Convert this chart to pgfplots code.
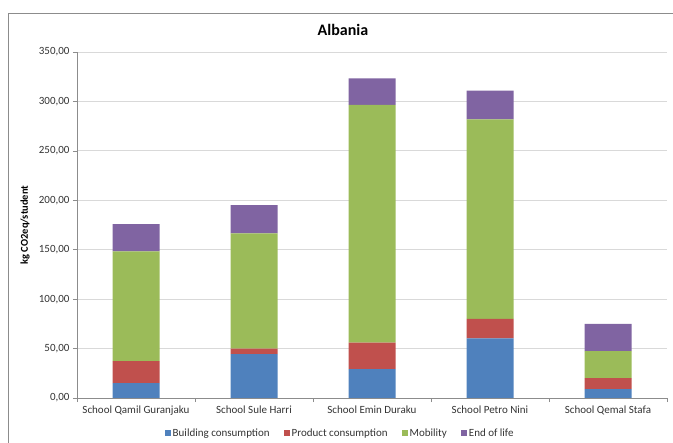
\documentclass[border=0pt]{standalone}
\usepackage{pgfplots}
\pgfplotsset{compat=1.18}
\usepackage{fontspec}
\setmainfont{Carlito}

\definecolor{xlblue}{HTML}{4F81BD}
\definecolor{xlred}{HTML}{C0504D}
\definecolor{xlgreen}{HTML}{9BBB59}
\definecolor{xlpurple}{HTML}{8064A2}
\definecolor{gridgray}{HTML}{D9D9D9}
\definecolor{axisgray}{HTML}{8C8C8C}

\begin{document}
\begin{tikzpicture}
  \path[use as bounding box] (0,0) rectangle (673bp,443bp);
  \draw[axisgray, line width=0.8bp] (8bp,0) -- (8bp,430bp) -- (673bp,430bp);

  \begin{axis}[
      at={(77bp,45bp)}, anchor=south west,
      scale only axis,
      width=590bp, height=346bp,
      ybar stacked,
      bar width=47bp,
      xmin=-0.5, xmax=4.5,
      ymin=0, ymax=350,
      ytick={0,50,...,350},
      xtick={0,1,2,3,4},
      xticklabels={School Qamil Guranjaku, School Sule Harri, School Emin Duraku, School Petro Nini, School Qemal Stafa},
      minor xtick={-0.5,0.5,...,4.5},
      major x tick style={draw=none},
      tick align=outside,
      major tick length=4bp,
      minor tick length=4bp,
      tick style={axisgray, line width=0.6bp},
      axis x line*=bottom,
      axis y line*=left,
      x axis line style={-, axisgray, line width=0.6bp},
      y axis line style={-, axisgray, line width=0.6bp},
      separate axis lines,
      ymajorgrids,
      grid style={gridgray, line width=0.8bp},
      yticklabel style={/pgf/number format/.cd, fixed, fixed zerofill, precision=2, use comma, assume math mode=true},
      ticklabel style={font=\fontsize{11bp}{13bp}\selectfont, text=black!80},
      ylabel={kg CO2eq/student},
      every axis y label/.style={at={(axis description cs:-0.088,0.5)}, rotate=90, anchor=center,
        font=\bfseries\fontsize{10.5bp}{12bp}\selectfont},
      legend columns=4,
      legend style={draw=none, fill=none, at={(axis description cs:0.446,-0.101)}, anchor=center,
        font=\fontsize{11bp}{13bp}\selectfont, text=black!80,
        /tikz/every even column/.append style={column sep=12bp}},
      legend image code/.code={\fill[#1] (0bp,-3bp) rectangle (6bp,3bp);},
    ]
    \addplot[fill=xlblue, draw=none] coordinates {(0,15) (1,44.5) (2,29.3) (3,60.4) (4,9.1)};
    \addplot[fill=xlred, draw=none] coordinates {(0,22.4) (1,5.4) (2,26.7) (3,19.6) (4,10.9)};
    \addplot[fill=xlgreen, draw=none] coordinates {(0,111) (1,116.7) (2,240.4) (3,201.9) (4,27.5)};
    \addplot[fill=xlpurple, draw=none] coordinates {(0,27.6) (1,28.4) (2,27.0) (3,29.0) (4,27.5)};
    \legend{Building consumption, Product consumption, Mobility, End of life}
  \end{axis}

  \node[font=\bfseries\fontsize{16bp}{19bp}\selectfont] at (343bp,413bp) {Albania};
\end{tikzpicture}
\end{document}
